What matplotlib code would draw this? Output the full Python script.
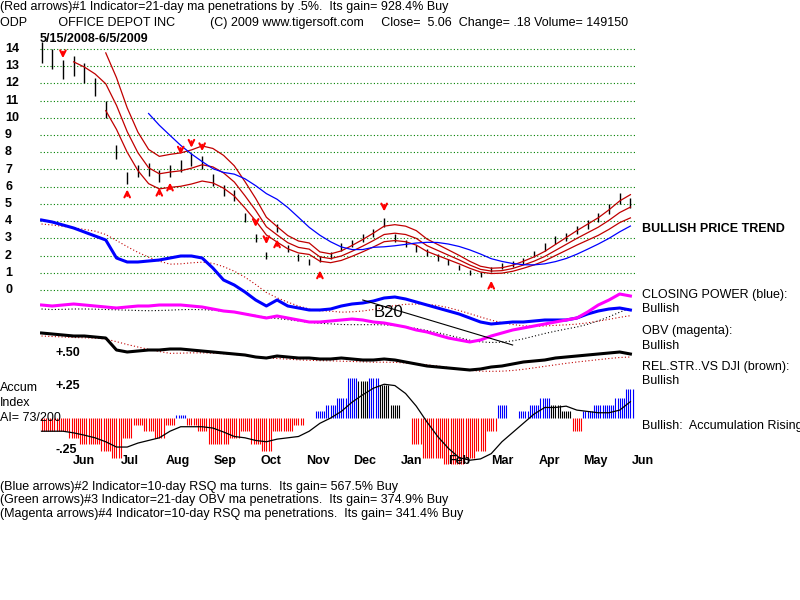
"""ODP TigerSoft style chart."""
import matplotlib
matplotlib.use("agg")
import matplotlib.pyplot as plt
import numpy as np
import pandas as pd

dates = pd.date_range("2008-05-16", periods=56, freq="W-FRI")
close = [13.8, 13.4,
         12.8, 13.0, 12.6, 11.8,
         10.5, 8.0, 6.5, 6.9,
         7.0, 6.6, 6.9, 7.2, 7.6,
         7.4, 6.4, 5.8, 5.5,
         4.2, 3.0, 2.0, 3.6, 2.4,
         1.9, 1.6, 1.8, 2.0,
         2.5, 2.7, 3.0, 3.3,
         3.9, 3.0, 2.7, 2.4, 2.2,
         1.9, 1.6, 1.3, 1.0,
         0.9, 1.2, 1.4, 1.5,
         1.7, 2.1, 2.5, 2.9, 3.1,
         3.5, 3.8, 4.2, 4.7,
         5.3, 5.06]
# lower panels, in screen-like units (bigger = lower)
closing_power = [220, 222, 225, 228, 232, 236, 240, 258, 262, 262,
                 261, 260, 258, 256, 256, 258, 268, 280, 285,
                 292, 300, 306, 300, 306, 308, 310, 310, 309,
                 306, 304, 303, 301, 298, 297, 299, 302, 305,
                 308, 311, 314, 318, 322, 324, 323, 322,
                 322, 321, 320, 320, 320, 318, 314, 311, 309, 308, 310]
obv = [305, 306, 305, 304, 305, 306, 307, 308, 307, 306,
       306, 305, 305, 305, 306, 307, 309, 311, 312,
       314, 316, 318, 316, 318, 320, 322, 322, 321,
       320, 319, 320, 322, 323, 325, 327, 330, 332,
       335, 338, 340, 342, 340, 336, 333, 330,
       328, 326, 324, 322, 320, 318, 312, 305, 300, 294, 296]
rel_str = [333, 334, 335, 336, 336, 337, 338, 350, 352, 351,
           350, 350, 349, 349, 350, 351, 352, 353, 354,
           355, 357, 358, 356, 357, 358, 358, 359, 359,
           358, 359, 360, 360, 359, 360, 362, 364, 366,
           367, 368, 369, 370, 369, 367, 366, 364,
           362, 361, 360, 358, 357, 356, 355, 354, 353, 352, 354]
accum = [-0.1, -0.1, -0.1, -0.15, -0.2, -0.2, -0.25, -0.3, -0.15, -0.05,
         -0.1, -0.15, -0.05, 0.02, -0.05, -0.1, -0.2, -0.2, -0.15,
         -0.1, -0.2, -0.25, -0.1, -0.1, -0.05, 0.0, 0.05, 0.1,
         0.15, 0.3, 0.28, 0.3, 0.25, 0.1, 0.0, -0.2, -0.3,
         -0.3, -0.35, -0.35, -0.3, -0.25, -0.1, 0.1, 0.0,
         0.05, 0.1, 0.15, 0.1, 0.05, -0.1, 0.05, 0.1, 0.1, 0.15, 0.22]
down_arrows = [2, 13, 14, 15, 20, 21, 32]
up_arrows = [8, 11, 12, 22, 26, 42]
months = ["Jun", "Jul", "Aug", "Sep", "Oct", "Nov", "Dec", "Jan", "Feb",
          "Mar", "Apr", "May", "Jun"]

plt.rcParams["font.family"] = ["Liberation Sans", "DejaVu Sans"]
W, H = 800, 600
fig = plt.figure(figsize=(8, 6), dpi=100)
fig.patch.set_facecolor("white")


def box(x0, y0, x1, y1):
    return [x0 / W, 1 - y1 / H, (x1 - x0) / W, (y1 - y0) / H]


xlim = (pd.Timestamp("2008-05-15"), pd.Timestamp("2009-06-08"))
c = pd.Series(close, index=dates)
ma = c.rolling(4, min_periods=1).mean()
ma_long = c.rolling(10, min_periods=1).mean()

# price panel
ax = fig.add_axes(box(40, 40, 635, 300))
ax.set_xlim(xlim)
ax.set_ylim(-0.58, 14.52)
ax.axis("off")
for lvl in range(15):
    ax.axhline(lvl, color="#008000", lw=0.8, ls=(0, (1, 2)))
    fig.text(5 / W, 1 - (290 - lvl * 17.21) / H, str(lvl), fontsize=9,
             fontweight="bold", va="center")
spread = c * 0.035 + 0.12
ax.vlines(dates, c - spread, c + spread, color="black", lw=1)
ax.plot(dates[6:], ma[6:] * 1.15, color="#c00000", lw=0.9)
ax.plot(dates[6:], ma[6:] * 0.87, color="#c00000", lw=0.9)
ax.plot(dates[3:], ma[3:], color="#c00000", lw=0.9)
ax.plot(dates[10:], ma_long[10:], color="#0000ff", lw=0.9)
for i in down_arrows:
    ax.annotate("", xy=(dates[i], close[i] + 0.5), xytext=(dates[i], close[i] + 1.2),
                arrowprops=dict(arrowstyle="->", color="red", lw=1.5))
for i in up_arrows:
    ax.annotate("", xy=(dates[i], close[i] - 0.5), xytext=(dates[i], close[i] - 1.2),
                arrowprops=dict(arrowstyle="->", color="red", lw=1.5))

# lower indicator lines
ax2 = fig.add_axes(box(40, 200, 635, 470))
ax2.set_xlim(xlim)
ax2.set_ylim(470, 200)
ax2.axis("off")
cp = pd.Series(closing_power, index=dates)
ob = pd.Series(obv, index=dates)
rs = pd.Series(rel_str, index=dates)
ax2.plot(dates, cp.rolling(6, min_periods=1).mean() + 4, color="#c00000",
         lw=0.8, ls=(0, (1, 2)))
ax2.plot(dates, ob.rolling(6, min_periods=1).mean() + 4, color="black",
         lw=0.8, ls=(0, (1, 2)))
ax2.plot(dates, rs.rolling(6, min_periods=1).mean() + 3, color="#c00000",
         lw=0.8, ls=(0, (1, 2)))
ax2.plot(dates, cp, color="#0000ff", lw=2.2)
ax2.plot(dates, ob, color="#ff00ff", lw=2.2)
ax2.plot(dates, rs, color="black", lw=2.2)
ax2.plot(dates[[30, 44]], [300, 345], color="black", lw=0.8)
ax2.text(dates[31], 317, "B20", fontsize=12)

# accumulation index
ax3 = fig.add_axes(box(40, 370, 635, 470))
ax3.set_xlim(xlim)
ax3.set_ylim(-0.394, 0.364)
ax3.axis("off")
a = pd.Series(accum, index=dates)
cols = ["#ff0000" if v < 0 else ("#0000ff" if v >= a.iloc[max(i - 1, 0)] else "black")
        for i, v in enumerate(accum)]
for k in range(-2, 3):
    ax3.vlines(dates + pd.Timedelta(days=k * 1.4), 0, a, colors=cols, lw=0.8)
ax3.plot(dates, a.rolling(5, min_periods=1).mean(), color="black", lw=0.9)

for i, m in enumerate(months):
    d = pd.Timestamp(2008, 6, 13) + pd.DateOffset(months=i)
    x = 40 + (d - xlim[0]).days / (xlim[1] - xlim[0]).days * 595
    fig.text(x / W, 1 - 461 / H, m, fontsize=9, fontweight="bold",
             ha="center", va="center")

def t(x, y, s, **kw):
    fig.text(x / W, 1 - y / H, s, fontsize=9, va="center", **kw)

t(0, 7, "(Red arrows)#1 Indicator=21-day ma penetrations by .5%.  Its gain= 928.4% Buy")
t(0, 23, "ODP         OFFICE DEPOT INC          (C) 2009 www.tigersoft.com     "
         "Close=  5.06  Change= .18 Volume= 149150")
t(40, 39, "5/15/2008-6/5/2009", fontweight="bold")
t(642, 229, "BULLISH PRICE TREND", fontweight="bold")
t(642, 295, "CLOSING POWER (blue):")
t(642, 309, "Bullish")
t(642, 331, "OBV (magenta):")
t(642, 346, "Bullish")
t(642, 367, "REL.STR..VS DJI (brown):")
t(642, 381, "Bullish")
t(642, 426, "Bullish:  Accumulation Rising")
t(0, 388, "Accum")
t(0, 403, "Index")
t(0, 418, "AI= 73/200")
t(55, 386, "+.25", fontweight="bold")
t(55, 353, "+.50", fontweight="bold")
t(55, 450, "-.25", fontweight="bold")
t(0, 487, "(Blue arrows)#2 Indicator=10-day RSQ ma turns.  Its gain= 567.5% Buy")
t(0, 500, "(Green arrows)#3 Indicator=21-day OBV ma penetrations.  Its gain= 374.9% Buy")
t(0, 514, "(Magenta arrows)#4 Indicator=10-day RSQ ma penetrations.  Its gain= 341.4% Buy")

fig.savefig("out.png", dpi=100)
